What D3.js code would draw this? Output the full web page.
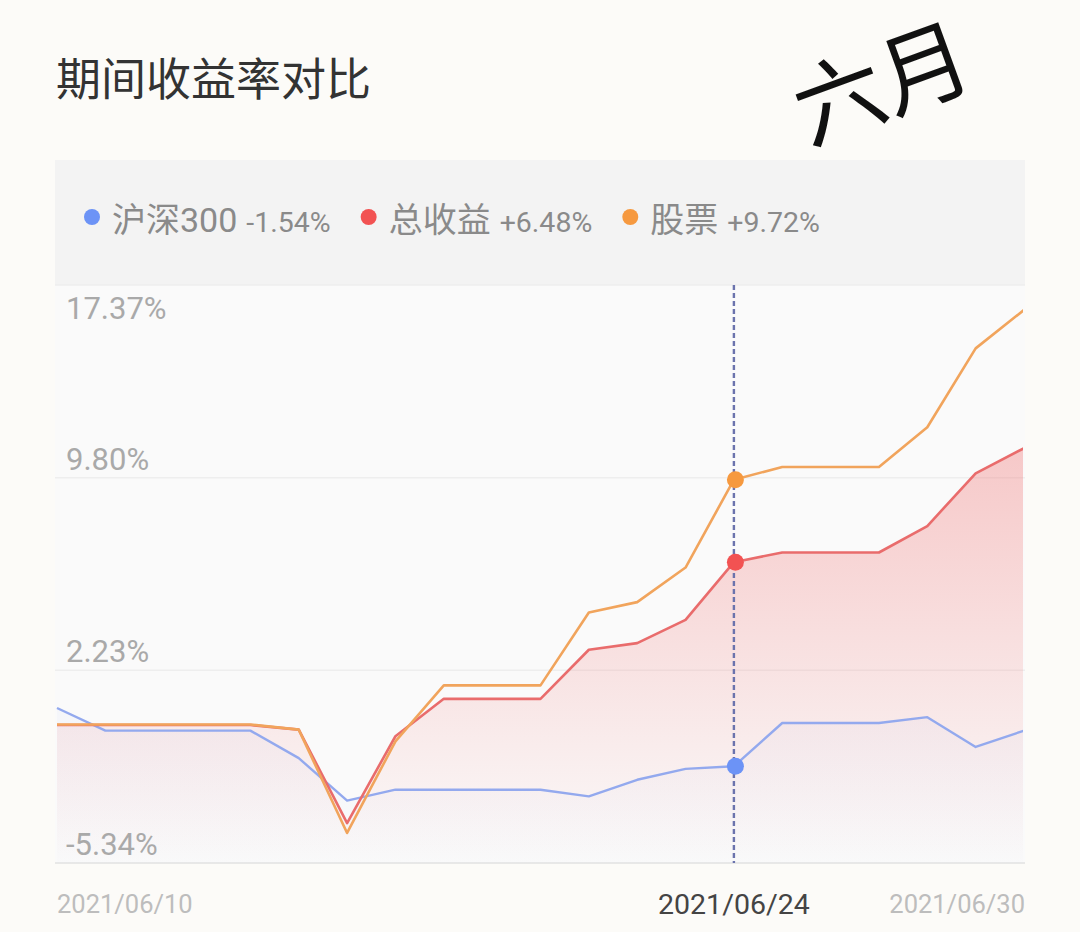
<!DOCTYPE html>
<html>
<head>
<meta charset="utf-8">
<script src="https://cdn.jsdelivr.net/npm/d3@7"></script>
<style>
  html, body { margin: 0; padding: 0; background: #fcfbf8; }
  svg { display: block; }
  text { font-family: Roboto, "Noto Sans CJK SC", sans-serif; }
</style>
</head>
<body>
<svg id="chart" width="1080" height="932"></svg>
<script>
// ---- data ----
const dates = ["2021/06/10","2021/06/11","2021/06/12","2021/06/13","2021/06/14","2021/06/15","2021/06/16",
  "2021/06/17","2021/06/18","2021/06/19","2021/06/20","2021/06/21","2021/06/22","2021/06/23",
  "2021/06/24","2021/06/25","2021/06/26","2021/06/27","2021/06/28","2021/06/29","2021/06/30"];
const hs300 = [0.75,-0.14,-0.14,-0.14,-0.14,-1.22,-2.89,-2.46,-2.46,-2.46,-2.46,-2.72,-2.07,-1.64,-1.54,0.16,0.16,0.16,0.39,-0.78,-0.14];
const total = [0.08,0.08,0.08,0.08,0.08,-0.10,-3.77,-0.36,1.11,1.11,1.11,3.04,3.30,4.21,6.48,6.86,6.86,6.86,7.90,9.97,10.96];
const stock = [0.10,0.10,0.10,0.10,0.10,-0.10,-4.16,-0.56,1.64,1.64,1.64,4.50,4.91,6.27,9.72,10.22,10.22,10.22,11.78,14.88,16.39];
const yTicks = [17.37, 9.80, 2.23, -5.34];
const xTickLabels = ["2021/06/10","2021/06/24","2021/06/30"];
const seriesNames = ["沪深300","总收益","股票"];
const legendValues = ["-1.54%","+6.48%","+9.72%"];
const activeDate = "2021/06/24";
const title = "期间收益率对比";
const note = "六月";

// ---- layout ----
const svg = d3.select("#chart");
const L = 57, R = 1024, T = 285, B = 863;
const colors = { hs: "#6c93f6", total: "#f25252", stock: "#f6993f" };
const lineColors = { hs: "#93a9ee", total: "#e96c6c", stock: "#f1a45c" };

const x = d3.scalePoint().domain(dates).range([L, R]);
const y = d3.scaleLinear().domain([-5.34, 17.37]).range([B, T]);

// title
svg.append("text").attr("x", 56).attr("y", 96)
  .attr("font-family", "'Noto Sans CJK SC', sans-serif")
  .attr("font-size", 45).attr("fill", "#333").text(title);

// handwritten note
svg.append("text").attr("transform", "translate(893,114) rotate(-20)")
  .attr("text-anchor", "middle")
  .attr("font-family", "'Noto Sans CJK SC', sans-serif")
  .attr("font-weight", 400)
  .attr("font-size", 90).attr("fill", "#111").text(note);

// legend panel
svg.append("rect").attr("x", 55).attr("y", 160).attr("width", 970).attr("height", 125).attr("fill", "#f3f3f3");
// plot background
svg.append("rect").attr("x", 55).attr("y", T).attr("width", 970).attr("height", B - T).attr("fill", "#fafafa");

// legend
const legendColors = [colors.hs, colors.total, colors.stock];
let lx = 92;
seriesNames.forEach((name, i) => {
  svg.append("circle").attr("cx", lx).attr("cy", 217).attr("r", 8).attr("fill", legendColors[i]);
  const t1 = svg.append("text").attr("x", lx + 20).attr("y", 232)
    .attr("font-family", "'Noto Sans CJK SC', sans-serif")
    .attr("font-size", 34).attr("fill", "#8a8a8a").text(name);
  const w1 = t1.node().getComputedTextLength();
  const t2 = svg.append("text").attr("x", lx + 20 + w1 + 9).attr("y", 232)
    .attr("font-size", 28.5).attr("fill", "#8a8a8a").text(legendValues[i]);
  const w2 = t2.node().getComputedTextLength();
  lx = lx + 20 + w1 + 9 + w2 + 38;
});

// grid
const grid = svg.append("g");
yTicks.forEach(v => {
  grid.append("line").attr("x1", 55).attr("x2", 1025).attr("y1", y(v)).attr("y2", y(v))
    .attr("stroke", v === yTicks[yTicks.length - 1] ? "#e2e2e2" : "#eeeeee").attr("stroke-width", 1.5);
});

// gradients
const defs = svg.append("defs");
const g1 = defs.append("linearGradient").attr("id", "redGrad").attr("gradientUnits", "userSpaceOnUse")
  .attr("x1", 0).attr("x2", 0).attr("y1", y(d3.max(total))).attr("y2", B);
g1.append("stop").attr("offset", 0).attr("stop-color", "#f07070").attr("stop-opacity", 0.36);
g1.append("stop").attr("offset", 1).attr("stop-color", "#f07070").attr("stop-opacity", 0.0);
const g2 = defs.append("linearGradient").attr("id", "blueGrad").attr("gradientUnits", "userSpaceOnUse")
  .attr("x1", 0).attr("x2", 0).attr("y1", y(d3.max(hs300))).attr("y2", B);
g2.append("stop").attr("offset", 0).attr("stop-color", "#8fa6ee").attr("stop-opacity", 0.05);
g2.append("stop").attr("offset", 1).attr("stop-color", "#8fa6ee").attr("stop-opacity", 0.01);
defs.append("clipPath").attr("id", "clip").append("rect")
  .attr("x", 55).attr("y", T).attr("width", 1023 - 55).attr("height", B - T);

const plot = svg.append("g").attr("clip-path", "url(#clip)");

const area = arr => d3.area().x((d, i) => x(dates[i])).y0(B).y1(d => y(d))(arr);
const line = arr => d3.line().x((d, i) => x(dates[i])).y(d => y(d))(arr);

plot.append("path").attr("d", area(total)).attr("fill", "url(#redGrad)");
plot.append("path").attr("d", area(hs300)).attr("fill", "url(#blueGrad)");

plot.append("path").attr("d", line(hs300)).attr("fill", "none").attr("stroke", lineColors.hs).attr("stroke-width", 2.4).attr("stroke-linejoin", "round");
plot.append("path").attr("d", line(total)).attr("fill", "none").attr("stroke", lineColors.total).attr("stroke-width", 2.6).attr("stroke-linejoin", "round");
plot.append("path").attr("d", line(stock)).attr("fill", "none").attr("stroke", lineColors.stock).attr("stroke-width", 2.6).attr("stroke-linejoin", "round");

// y labels
yTicks.forEach((v, i) => {
  const yy = i === 0 ? y(v) + 34 : y(v) - 8;
  svg.append("text").attr("x", 66).attr("y", yy).attr("font-size", 31).attr("fill", "#a9a9a9").text(v.toFixed(2) + "%");
});

// crosshair
const ax = x(activeDate);
svg.append("line").attr("x1", ax).attr("x2", ax).attr("y1", T).attr("y2", B)
  .attr("stroke", "#6b73ad").attr("stroke-width", 2.4).attr("stroke-dasharray", "5,3");
const ai = dates.indexOf(activeDate);
[[hs300, colors.hs], [total, colors.total], [stock, colors.stock]].forEach(([arr, c]) => {
  svg.append("circle").attr("cx", ax + 1.5).attr("cy", y(arr[ai])).attr("r", 8.5).attr("fill", c);
});

// x labels
svg.append("text").attr("x", x(xTickLabels[0])).attr("y", 913).attr("font-size", 25.5).attr("fill", "#bdbdbd").text(xTickLabels[0]);
svg.append("text").attr("x", x(xTickLabels[1])).attr("y", 914).attr("text-anchor", "middle").attr("font-size", 28.5).attr("fill", "#444").text(xTickLabels[1]);
svg.append("text").attr("x", 1025).attr("y", 913).attr("text-anchor", "end").attr("font-size", 25.5).attr("fill", "#bdbdbd").text(xTickLabels[2]);
</script>
</body>
</html>
